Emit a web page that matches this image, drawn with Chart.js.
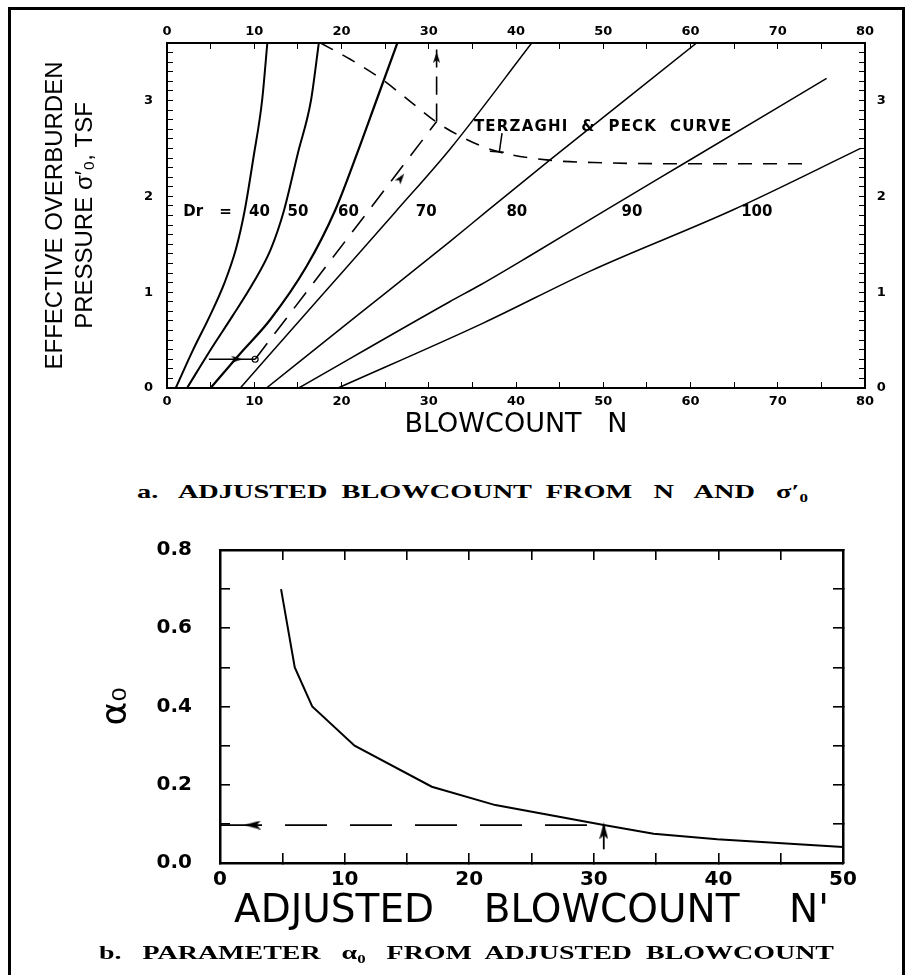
<!DOCTYPE html>
<html>
<head>
<meta charset="utf-8">
<title>Adjusted blowcount from N and effective overburden pressure</title>
<script src="https://cdn.jsdelivr.net/npm/chart.js@4.4.0/dist/chart.umd.min.js"></script>
<style>
  html, body { margin: 0; padding: 0; background: #fff; }
  #page { position: relative; width: 910px; height: 975px; overflow: hidden; }
  #frame { position: absolute; left: 8px; top: 7px; width: 897px; height: 1000px;
           border: 3px solid #000; box-sizing: border-box; }
  #wrapA { position: absolute; left: 0; top: 0; width: 910px; height: 445px; }
  #wrapB { position: absolute; left: 0; top: 500px; width: 910px; height: 475px; }
  .caption { position: absolute; font: bold 19px "Liberation Serif", "DejaVu Serif", serif;
             white-space: pre; line-height: 22px; color: #000;
             transform-origin: 0 50%; }
</style>
</head>
<body>
<div id="page">
  <div id="frame"></div>
  <div id="wrapA"><canvas id="chartA" width="910" height="445"></canvas></div>
  <div id="captionA" class="caption" style="left:137px; top:481px;">a.   ADJUSTED  BLOWCOUNT  FROM   N   AND   σ′₀</div>
  <div id="wrapB"><canvas id="chartB" width="910" height="475"></canvas></div>
  <div id="captionB" class="caption" style="left:99px; top:942px;">b.   PARAMETER   α₀   FROM  ADJUSTED  BLOWCOUNT</div>
</div>
<script>
// ---- (a) relative density lines: blowcount N against overburden pressure (tsf)
var dr40N = [1.0, 3.0, 4.9, 6.6, 7.9, 8.9, 9.9, 10.9, 11.5];
var dr40P = [0, 0.4, 0.75, 1.1, 1.45, 1.85, 2.4, 3.0, 3.6];
var dr50N = [2.3, 5.0, 7.5, 9.9, 11.9, 13.4, 15.0, 16.5, 17.4];
var dr50P = [0, 0.4, 0.75, 1.1, 1.45, 1.85, 2.45, 3.0, 3.6];
var dr60N = [5.0, 8.3, 11.8, 16.0, 19.3, 21.8, 24.0, 26.4];
var dr60P = [0, 0.35, 0.71, 1.27, 1.86, 2.45, 3.0, 3.6];
var dr70N = [8.4, 17.3, 26.2, 32.5, 41.8];
var dr70P = [0, 0.92, 1.84, 2.5, 3.6];
var dr80N = [11.4, 22.0, 32.45, 36.6, 43.9, 52.3, 60.7];
var dr80P = [0, 0.77, 1.53, 1.84, 2.38, 2.99, 3.6];
var dr90N = [15.1, 32.4, 36.0, 41.6, 50.0, 59.2, 75.6];
var dr90P = [0, 0.9, 1.08, 1.38, 1.84, 2.34, 3.23];
var dr100N = [19.6, 36.3, 48.5, 64.9, 79.5];
var dr100P = [0, 0.68, 1.22, 1.86, 2.5];

// Terzaghi & Peck curve
var tpN = [17.6, 21.0, 24.8, 28.0, 30.8, 34.0, 37.4, 43.5, 50, 60, 74];
var tpP = [3.6, 3.43, 3.21, 2.98, 2.78, 2.61, 2.48, 2.38, 2.35, 2.34, 2.34];

// worked example: N = 10 at 0.3 tsf -> N' = 31
var startN = [4.8, 10.1];
var startP = [0.3, 0.3];
var pathN = [10.1, 30.9];
var pathP = [0.3, 2.78];
var riseN = [30.9, 30.9];
var riseP = [2.78, 3.6];
var arrowN = [8.0, 26.8, 30.9];
var arrowP = [0.3, 2.19, 3.45];
var arrowTurn = [90, 37, 0];

// leader from the curve caption
var leaderN = [38.4, 38.1];
var leaderP = [2.66, 2.47];
var leaderBaseN = [37.0, 38.6];
var leaderBaseP = [2.47, 2.46];

// text inside the plot
var drLabels = ['Dr', '=', '40', '50', '60', '70', '80', '90', '100'];
var drLabelN = [3.0, 6.7, 10.6, 15.0, 20.8, 29.7, 40.1, 53.3, 67.6];
var drLabelP = 1.84;
var curveCaption = 'TERZAGHI  &  PECK  CURVE';
var curveCaptionN = 50.0;
var curveCaptionP = 2.725;

// ---- (b) alpha_o against adjusted blowcount N'
var adjN = [4.9, 6.0, 7.4, 10.8, 17.0, 22.1, 30.8, 34.8, 39.9, 50];
var alphaO = [0.70, 0.50, 0.40, 0.30, 0.195, 0.148, 0.097, 0.075, 0.061, 0.041];
var readN = 30.8;
var readAlpha = 0.097;
var readFoot = 0.035;
var alphaArrowN = [2.6, 30.8];
var alphaArrowA = [0.097, 0.082];
var alphaArrowTurn = [-90, 0];

function pts(xs, ys) {
  return xs.map(function (v, i) { return { x: v, y: ys[i] }; });
}

// narrow arrowhead sprite, pointing up
function arrowHead(w, h) {
  var c = document.createElement('canvas');
  c.width = w; c.height = h;
  var g = c.getContext('2d');
  g.fillStyle = '#000';
  g.beginPath();
  g.moveTo(w / 2, 0);
  g.lineTo(w, h);
  g.lineTo(w / 2, h * 0.75);
  g.lineTo(0, h);
  g.closePath();
  g.fill();
  return c;
}

function curve(xs, ys, width, dash) {
  return {
    data: pts(xs, ys),
    borderColor: '#000',
    borderWidth: width,
    borderDash: dash || [],
    pointRadius: 0,
    fill: false,
    cubicInterpolationMode: 'monotone'
  };
}

function intLabel(v) {
  return Math.abs(v - Math.round(v)) < 1e-6 ? String(Math.round(v)) : '';
}
function tenLabel(v) {
  return Math.round(v) % 10 === 0 ? String(Math.round(v)) : '';
}

// stretch a caption to the width of its line
function fitCaption(id, width) {
  var el = document.getElementById(id);
  el.style.transform = 'scaleX(' + (width / el.getBoundingClientRect().width) + ')';
}
fitCaption('captionA', 671);
fitCaption('captionB', 735);

var black = '#000';
var gridA = { display: true, drawOnChartArea: false, drawTicks: true, tickLength: -6, color: black, lineWidth: 1 };
var borderA = { display: true, color: black, width: 2 };
var tickFontA = { family: '"DejaVu Sans", sans-serif', size: 13, weight: 'bold' };

var curveLabels = {
  id: 'curveLabels',
  afterDatasetsDraw: function (chart) {
    var ctx = chart.ctx;
    var x = chart.scales.x, y = chart.scales.y;
    ctx.save();
    ctx.fillStyle = black;
    ctx.textAlign = 'center';
    ctx.textBaseline = 'middle';
    ctx.font = 'bold 15px "DejaVu Sans", sans-serif';
    for (var i = 0; i < drLabels.length; i++) {
      ctx.fillText(drLabels[i], x.getPixelForValue(drLabelN[i]), y.getPixelForValue(drLabelP));
    }
    ctx.letterSpacing = '1.2px';
    ctx.fillText(curveCaption, x.getPixelForValue(curveCaptionN), y.getPixelForValue(curveCaptionP));
    ctx.restore();
  }
};

var smallHead = arrowHead(7, 11);

new Chart(document.getElementById('chartA'), {
  type: 'line',
  data: {
    datasets: [
      curve(dr40N, dr40P, 2),
      curve(dr50N, dr50P, 2),
      curve(dr60N, dr60P, 2.2),
      curve(dr70N, dr70P, 1.5),
      curve(dr80N, dr80P, 1.5),
      curve(dr90N, dr90P, 1.5),
      curve(dr100N, dr100P, 1.5),
      curve(tpN, tpP, 1.6, [14, 11]),
      curve(startN, startP, 1.3),
      curve(pathN, pathP, 1.6, [20, 12]),
      curve(riseN, riseP, 1.6, [18, 9]),
      curve(leaderN, leaderP, 1.5),
      curve(leaderBaseN, leaderBaseP, 1.5),
      {
        data: pts([startN[1]], [startP[1]]),
        showLine: false,
        pointStyle: 'circle',
        pointRadius: 3,
        pointBackgroundColor: '#fff',
        pointBorderColor: black,
        pointBorderWidth: 1.2
      },
      {
        data: pts(arrowN, arrowP),
        showLine: false,
        pointStyle: smallHead,
        pointRotation: arrowTurn
      }
    ]
  },
  plugins: [curveLabels],
  options: {
    responsive: false,
    animation: false,
    events: [],
    layout: { padding: 0 },
    plugins: { legend: { display: false }, tooltip: { enabled: false } },
    scales: {
      x: {
        type: 'linear', position: 'bottom', min: 0, max: 80,
        ticks: { stepSize: 5, autoSkip: false, maxRotation: 0, padding: 12, color: black, font: tickFontA, callback: tenLabel },
        grid: gridA, border: borderA,
        title: { display: true, text: 'BLOWCOUNT   N', color: black,
                 font: { family: '"DejaVu Sans", sans-serif', size: 27 }, padding: { top: 0, bottom: 4 } },
        afterFit: function (s) { s.height = 57; }
      },
      xTop: {
        type: 'linear', position: 'top', min: 0, max: 80,
        ticks: { stepSize: 5, autoSkip: false, maxRotation: 0, padding: 9.5, color: black, font: tickFontA, callback: tenLabel },
        grid: gridA, border: borderA,
        afterFit: function (s) { s.height = 43; }
      },
      y: {
        type: 'linear', position: 'left', min: 0, max: 3.6,
        ticks: { stepSize: 0.1, autoSkip: false, padding: 20, color: black, font: tickFontA, callback: intLabel },
        grid: gridA, border: borderA,
        title: { display: true, text: ['EFFECTIVE OVERBURDEN', 'PRESSURE σ′₀, TSF'], color: black,
                 font: { family: '"Liberation Sans", Arial, sans-serif', size: 24, lineHeight: 1.25 },
                 padding: { top: 40, bottom: 0 } },
        afterFit: function (s) { s.width = 167; }
      },
      yRight: {
        type: 'linear', position: 'right', min: 0, max: 3.6,
        ticks: { stepSize: 0.1, autoSkip: false, padding: 17.7, color: black, font: tickFontA, callback: intLabel },
        grid: gridA, border: borderA,
        afterFit: function (s) { s.width = 45; }
      }
    }
  }
});

// ---- chart (b)
var gridB = { display: true, drawOnChartArea: false, drawTicks: true, tickLength: -10, color: black, lineWidth: 1.6 };
var borderB = { display: true, color: black, width: 2.5 };
var tickFontB = { family: '"DejaVu Sans", sans-serif', size: 20, weight: 'bold' };
var bigHead = arrowHead(9, 17);

new Chart(document.getElementById('chartB'), {
  type: 'line',
  data: {
    datasets: [
      {
        data: pts(adjN, alphaO),
        borderColor: black, borderWidth: 2, pointRadius: 0, fill: false, tension: 0
      },
      {
        data: pts([0, readN], [readAlpha, readAlpha]),
        borderColor: black, borderWidth: 1.8, borderDash: [42, 23], pointRadius: 0, fill: false
      },
      {
        data: pts([readN, readN], [readFoot, readAlpha]),
        borderColor: black, borderWidth: 1.8, pointRadius: 0, fill: false
      },
      {
        data: pts(alphaArrowN, alphaArrowA),
        showLine: false,
        pointStyle: bigHead,
        pointRotation: alphaArrowTurn
      }
    ]
  },
  options: {
    responsive: false,
    animation: false,
    events: [],
    layout: { padding: 0 },
    plugins: { legend: { display: false }, tooltip: { enabled: false } },
    scales: {
      x: {
        type: 'linear', position: 'bottom', min: 0, max: 50,
        ticks: { stepSize: 5, autoSkip: false, maxRotation: 0, padding: 15, color: black, font: tickFontB, callback: tenLabel },
        grid: gridB, border: borderB,
        title: { display: true, text: "ADJUSTED    BLOWCOUNT    N'", color: black,
                 font: { family: '"DejaVu Sans", sans-serif', size: 39 }, padding: { top: 0, bottom: 40 } },
        afterFit: function (s) { s.height = 112; }
      },
      xTop: {
        type: 'linear', position: 'top', min: 0, max: 50,
        ticks: { stepSize: 5, display: false },
        grid: gridB, border: borderB,
        afterFit: function (s) { s.height = 30; }
      },
      y: {
        type: 'linear', position: 'left', min: 0, max: 0.8,
        ticks: {
          stepSize: 0.1, autoSkip: false, padding: 38, color: black, font: tickFontB,
          callback: function (v) { return Math.round(v * 10) % 2 === 0 ? v.toFixed(1) : ''; }
        },
        grid: gridB, border: borderB,
        title: { display: true, text: 'α₀', color: black,
                 font: { family: '"DejaVu Sans", sans-serif', size: 36 }, padding: { top: 95, bottom: 0 } },
        afterFit: function (s) { s.width = 220; }
      },
      yRight: {
        type: 'linear', position: 'right', min: 0, max: 0.8,
        ticks: { stepSize: 0.1, display: false },
        grid: gridB, border: borderB,
        afterFit: function (s) { s.width = 67; }
      }
    }
  }
});
</script>
</body>
</html>
